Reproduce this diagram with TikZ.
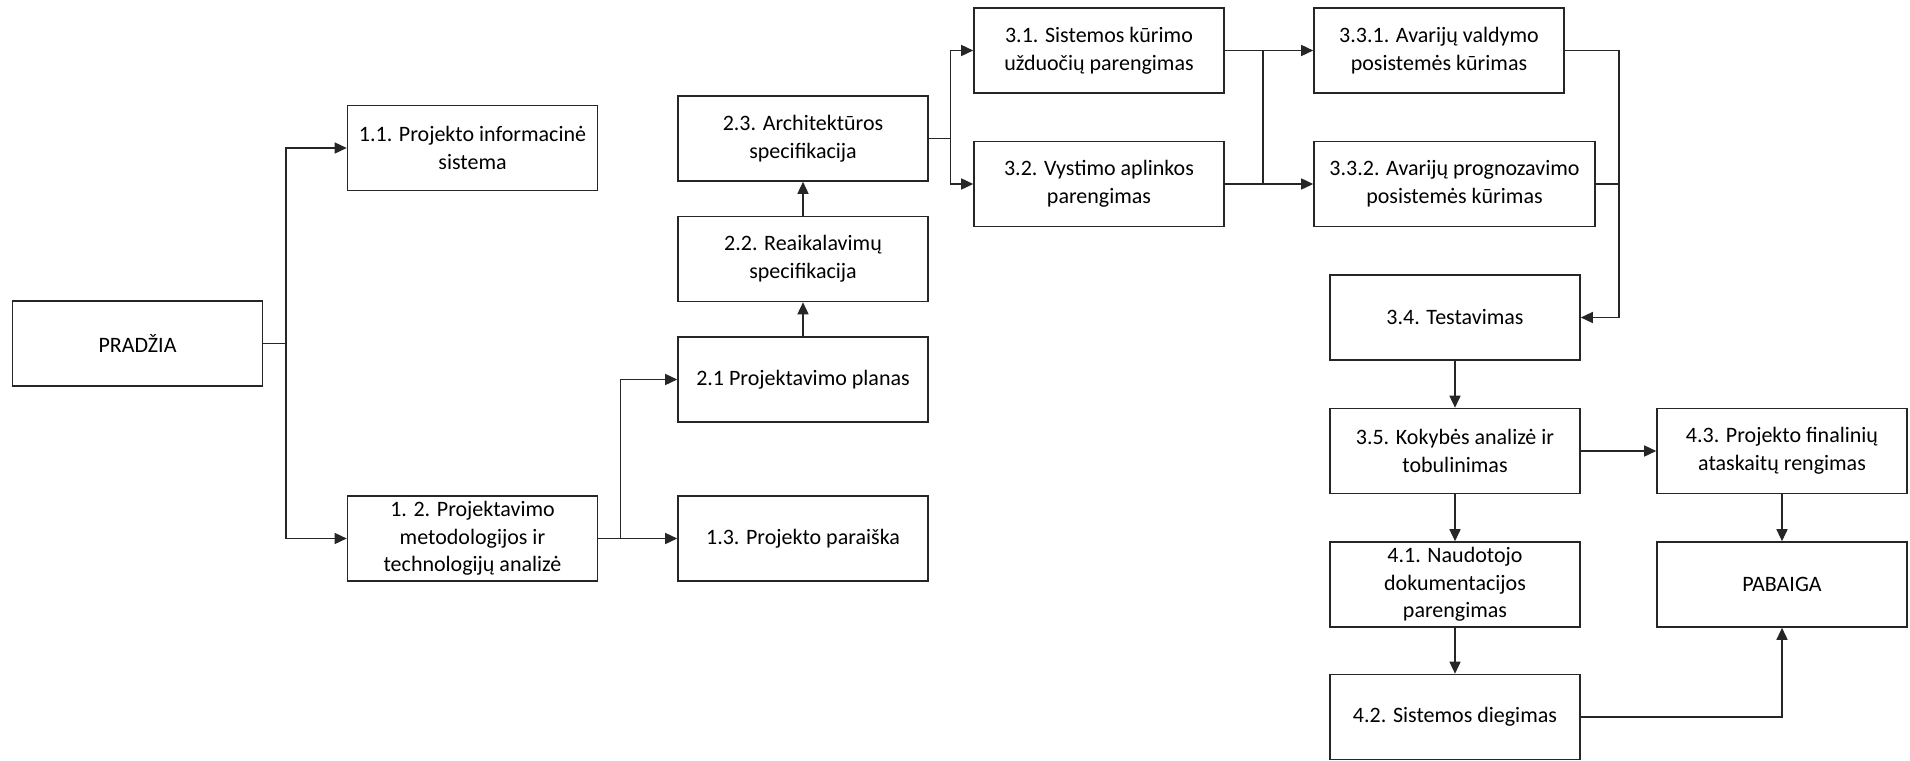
\documentclass[tikz,border=0pt]{standalone}
\usepackage{fontspec}
\setmainfont{Carlito}
\usetikzlibrary{arrows.meta}

\begin{document}
\begin{tikzpicture}[
  x=0.5pt, y=-0.5pt,
  task/.style={draw=black!85, line width=0.8pt, fill=white,
    minimum width=125pt, minimum height=42.5pt, inner sep=1pt,
    align=center, font=\fontsize{11}{13.8}\selectfont},
  link/.style={draw=black!85, line width=0.75pt},
  arr/.style={link, -{Triangle[length=6pt, width=5.5pt]}}
]
\useasboundingbox (0,0) rectangle (1910,760);

% phase 1
\node[task] (start) at (137.5,343.5) {PRADŽIA};
\node[task] (n11) at (472.5,148) {1.1. Projekto informacinė\\sistema};
\node[task] (n12) at (472.5,538.5) {1. 2. Projektavimo\\metodologijos ir\\technologijų analizė};

% phase 2
\node[task] (n21) at (803,379.5) {2.1 Projektavimo planas};
\node[task] (n13) at (803,538.5) {1.3. Projekto paraiška};
\node[task] (n22) at (803,259) {2.2. Reaikalavimų\\specifikacija};
\node[task] (n23) at (803,138.5) {2.3. Architektūros\\specifikacija};

% phase 3
\node[task] (n31) at (1099,50.5) {3.1. Sistemos kūrimo\\užduočių parengimas};
\node[task] (n32) at (1099,184) {3.2. Vystimo aplinkos\\parengimas};
\node[task] (n331) at (1439,50.5) {3.3.1. Avarijų valdymo\\posistemės kūrimas};
\node[task, minimum width=140.5pt] (n332) at (1454.5,184) {3.3.2. Avarijų prognozavimo\\posistemės kūrimas};
\node[task] (n34) at (1455,317.5) {3.4. Testavimas};
\node[task] (n35) at (1455,451) {3.5. Kokybės analizė ir\\tobulinimas};

% phase 4
\node[task] (n41) at (1455,584.5) {4.1. Naudotojo\\dokumentacijos\\parengimas};
\node[task] (n42) at (1455,717) {4.2. Sistemos diegimas};
\node[task] (n43) at (1782,451) {4.3. Projekto finalinių\\ataskaitų rengimas};
\node[task] (end) at (1782,584.5) {PABAIGA};

% branching points
\coordinate (j1) at (286,343.5);
\coordinate (j2) at (620.5,538.5);
\coordinate (j3) at (950.5,138.5);
\coordinate (j4a) at (1263,50.5);
\coordinate (j4b) at (1263,184);
\coordinate (j5a) at (1619,50.5);
\coordinate (j5b) at (1619,184);

% connectors
\draw[link] (start.east) -- (j1);
\draw[arr] (j1) |- (n11.west);
\draw[arr] (j1) |- (n12.west);

\draw[arr] (n12.east) -- (n13.west);
\draw[arr] (j2) |- (n21.west);

\draw[arr] (n21.north) -- (n22.south);
\draw[arr] (n22.north) -- (n23.south);

\draw[link] (n23.east) -- (j3);
\draw[arr] (j3) |- (n31.west);
\draw[arr] (j3) |- (n32.west);

\draw[arr] (n31.east) -- (n331.west);
\draw[arr] (n32.east) -- (n332.west);
\draw[link] (j4a) -- (j4b);

\draw[arr] (n331.east) -- (j5a) |- (n34.east);
\draw[link] (n332.east) -- (j5b);

\draw[arr] (n34.south) -- (n35.north);
\draw[arr] (n35.south) -- (n41.north);
\draw[arr] (n41.south) -- (n42.north);
\draw[arr] (n35.east) -- (n43.west);
\draw[arr] (n43.south) -- (end.north);
\draw[arr] (n42.east) -| (end.south);
\end{tikzpicture}
\end{document}
